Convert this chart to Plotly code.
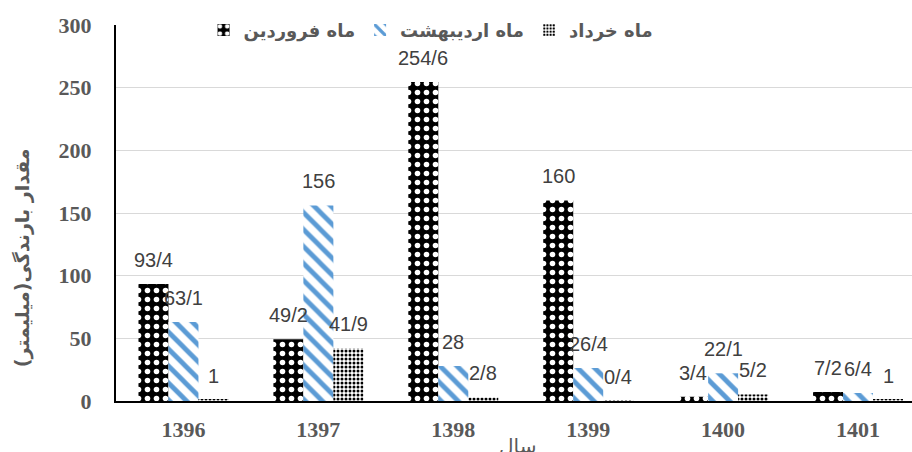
import plotly.graph_objects as go

years = ["1396", "1397", "1398", "1399", "1400", "1401"]
series_names = ["ماه فروردین", "ماه اردیبهشت", "ماه خرداد"]
farvardin = [93.4, 49.2, 254.6, 160, 3.4, 7.2]
ordibehesht = [63.1, 156, 28, 26.4, 22.1, 6.4]
khordad = [1, 41.9, 2.8, 0.4, 5.2, 1]
y_ticks = [0, 50, 100, 150, 200, 250, 300]

series = [farvardin, ordibehesht, khordad]
patterns = [
    dict(shape=".", fgcolor="white", bgcolor="black", size=9, solidity=0.3, fillmode="replace"),
    dict(shape="\\", fgcolor="#5b9bd5", bgcolor="white", size=12, solidity=0.4, fillmode="replace"),
    dict(shape=".", fgcolor="black", bgcolor="white", size=4, solidity=0.45, fillmode="replace"),
]

def fmt(v):
    s = ("%g" % v)
    return s.replace(".", "/")

fig = go.Figure()
for name, vals, pat in zip(series_names, series, patterns):
    fig.add_trace(go.Bar(
        x=years, y=vals, name=name,
        marker=dict(color="white", pattern=pat, line=dict(width=0)),
    ))

annotations = []
offsets = [-30, 0, 30]
for vals, off in zip(series, offsets):
    for i, v in enumerate(vals):
        annotations.append(dict(
            x=i, y=v, xref="x", yref="y", text=fmt(v), showarrow=False,
            xshift=off, yshift=24, yanchor="middle",
            font=dict(family="Liberation Sans", size=20, color="#404040"),
        ))

annotations.append(dict(
    x=-0.118, y=0.38, xref="paper", yref="paper", text="مقدار بارندگی(میلیمتر)",
    textangle=-90, showarrow=False, xanchor="center", yanchor="middle",
    font=dict(family="DejaVu Sans", size=19, color="#595959", weight="bold"),
))
annotations.append(dict(
    x=0.505, y=-0.082, xref="paper", yref="paper", text="سال",
    showarrow=False, xanchor="center", yanchor="top",
    font=dict(family="DejaVu Sans", size=20, color="#595959"),
))

fig.update_layout(
    width=912, height=452,
    margin=dict(l=116, r=0, t=25, b=51),
    paper_bgcolor="white", plot_bgcolor="white",
    barmode="group", bargap=0.333, bargroupgap=0,
    showlegend=True,
    legend=dict(
        orientation="h", x=0.11, y=1.035, xanchor="left", yanchor="top",
        bgcolor="rgba(0,0,0,0)",
        font=dict(family="DejaVu Sans", size=18, color="#595959", weight="bold"),
        itemsizing="constant", traceorder="normal",
    ),
    annotations=annotations,
    xaxis=dict(
        type="category", range=[-0.5, 5.4],
        showline=True, linecolor="black", linewidth=2,
        showgrid=False, ticks="", ticklabelstandoff=8,
        tickfont=dict(family="Liberation Serif", size=22, color="#595959", weight="bold"),
    ),
    yaxis=dict(
        range=[0, 300], tickvals=y_ticks,
        showline=True, linecolor="black", linewidth=2,
        showgrid=True, gridcolor="#d9d9d9", gridwidth=1,
        zeroline=False, ticks="", ticklabelstandoff=18,
        tickfont=dict(family="Liberation Serif", size=22, color="#595959", weight="bold"),
    ),
)

fig.write_html("out.html", config={"displayModeBar": False},
               post_script="document.body.style.margin='0';document.body.style.overflow='hidden';")
